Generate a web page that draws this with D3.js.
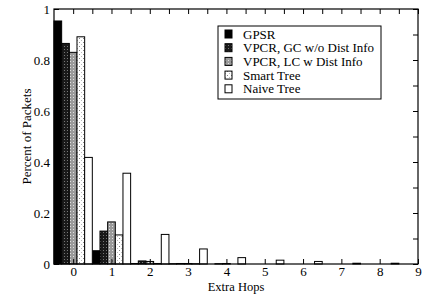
<!DOCTYPE html>
<html>
<head>
<meta charset="utf-8">
<script src="https://cdn.jsdelivr.net/npm/d3@7"></script>
<style>
  body { margin: 0; background: #fff; }
  svg text { font-family: "Liberation Serif", "Times New Roman", serif; }
</style>
</head>
<body>
<div id="chart"></div>
<script>
// data
const hops = [0, 1, 2, 3, 4, 5, 6, 7, 8];
const seriesNames = ["GPSR", "VPCR, GC w/o Dist Info", "VPCR, LC w Dist Info", "Smart Tree", "Naive Tree"];
const gpsr   = [0.953, 0.052, 0.002, 0.001, 0, 0, 0, 0, 0];
const vpcrGC = [0.865, 0.129, 0.012, 0.002, 0.001, 0, 0, 0, 0];
const vpcrLC = [0.830, 0.165, 0.010, 0.002, 0.002, 0, 0, 0, 0];
const smart  = [0.891, 0.114, 0.002, 0.001, 0, 0, 0, 0, 0];
const naive  = [0.418, 0.356, 0.116, 0.059, 0.025, 0.015, 0.010, 0.003, 0.003];
const xTicks = [0, 1, 2, 3, 4, 5, 6, 7, 8, 9];
const yTicks = [0, 0.2, 0.4, 0.6, 0.8, 1];

const allSeries = [gpsr, vpcrGC, vpcrLC, smart, naive];

const W = 429, H = 295;
const margin = { top: 9, right: 11, bottom: 31, left: 54 };
const width = W - margin.left - margin.right,
      height = H - margin.top - margin.bottom;

const svg = d3.select("#chart").append("svg")
  .attr("width", W)
  .attr("height", H);

// fill patterns
const defs = svg.append("defs");

const pGC = defs.append("pattern").attr("id", "pGC")
  .attr("width", 3).attr("height", 3).attr("patternUnits", "userSpaceOnUse");
pGC.append("rect").attr("width", 3).attr("height", 3).attr("fill", "#1a1a1a");
pGC.append("rect").attr("x", 1).attr("y", 1).attr("width", 1).attr("height", 1).attr("fill", "#777");

const pLC = defs.append("pattern").attr("id", "pLC")
  .attr("width", 3).attr("height", 3).attr("patternUnits", "userSpaceOnUse");
pLC.append("rect").attr("width", 3).attr("height", 3).attr("fill", "#9a9a9a");
pLC.append("rect").attr("x", 1).attr("y", 1).attr("width", 1).attr("height", 1).attr("fill", "#e0e0e0");

const pSmart = defs.append("pattern").attr("id", "pSmart")
  .attr("width", 4).attr("height", 4).attr("patternUnits", "userSpaceOnUse");
pSmart.append("rect").attr("width", 4).attr("height", 4).attr("fill", "#fff");
pSmart.append("rect").attr("x", 1).attr("y", 1).attr("width", 1).attr("height", 1).attr("fill", "#888");
pSmart.append("rect").attr("x", 3).attr("y", 3).attr("width", 1).attr("height", 1).attr("fill", "#bbb");

const fills = ["#000", "url(#pGC)", "url(#pLC)", "url(#pSmart)", "#fff"];

const g = svg.append("g")
  .attr("transform", `translate(${margin.left},${margin.top})`);

const x = d3.scaleLinear().domain([-0.5, 9]).range([0, width]);
const y = d3.scaleLinear().domain([0, 1]).range([height, 0]);
const barW = 0.2;

// bars
allSeries.forEach((vals, si) => {
  g.selectAll(".bar" + si)
    .data(hops.map((h, i) => ({ h: h, v: vals[i] })))
    .join("rect")
    .attr("x", d => x(d.h - 0.5 + si * barW))
    .attr("y", d => y(d.v))
    .attr("width", x(barW) - x(0))
    .attr("height", d => height - y(d.v))
    .attr("fill", fills[si])
    .attr("stroke", "#000")
    .attr("stroke-width", 1);
});

// axes, ticks pointing inwards
const tickLen = 5;
g.append("g")
  .attr("transform", `translate(0,${height})`)
  .call(d3.axisBottom(x).tickValues(xTicks).tickSize(-tickLen).tickPadding(3).tickFormat(d3.format("d")))
  .call(a => a.select(".domain").remove());
g.append("g")
  .call(d3.axisTop(x).tickValues(d3.range(0, 9.01, 0.5)).tickSize(-tickLen).tickFormat(""))
  .call(a => a.select(".domain").remove());
g.append("g")
  .call(d3.axisLeft(y).tickValues(yTicks).tickSize(-tickLen).tickPadding(4).tickFormat(d => d === 0 || d === 1 ? d3.format("d")(d) : d3.format(".1f")(d)))
  .call(a => a.select(".domain").remove());
g.append("g")
  .attr("transform", `translate(${width},0)`)
  .call(d3.axisRight(y).tickValues(d3.range(0, 1.001, 0.1)).tickSize(-tickLen).tickFormat(""))
  .call(a => a.select(".domain").remove());

g.selectAll(".tick text").attr("font-size", 13).attr("fill", "#000");
g.selectAll(".tick line").attr("stroke", "#000");

// frame
g.append("rect")
  .attr("width", width).attr("height", height)
  .attr("fill", "none").attr("stroke", "#000").attr("stroke-width", 1.2);

// axis titles
svg.append("text")
  .attr("x", margin.left + width / 2).attr("y", 291)
  .attr("text-anchor", "middle").attr("font-size", 12.5)
  .text("Extra Hops");
svg.append("text")
  .attr("transform", `translate(31,${margin.top + height / 2}) rotate(-90)`)
  .attr("text-anchor", "middle").attr("font-size", 13)
  .text("Percent of Packets");

// legend
const lg = svg.append("g").attr("transform", "translate(218,26)");
lg.append("rect").attr("width", 163).attr("height", 73)
  .attr("fill", "#fff").attr("stroke", "#000").attr("stroke-width", 1);
seriesNames.forEach((name, i) => {
  const cy = 8 + i * 13.7;
  lg.append("rect").attr("x", 7).attr("y", cy - 4).attr("width", 7).attr("height", 8)
    .attr("fill", fills[i]).attr("stroke", "#000");
  lg.append("text").attr("x", 25).attr("y", cy + 4.5)
    .attr("font-size", 13).text(name);
});
</script>
</body>
</html>
